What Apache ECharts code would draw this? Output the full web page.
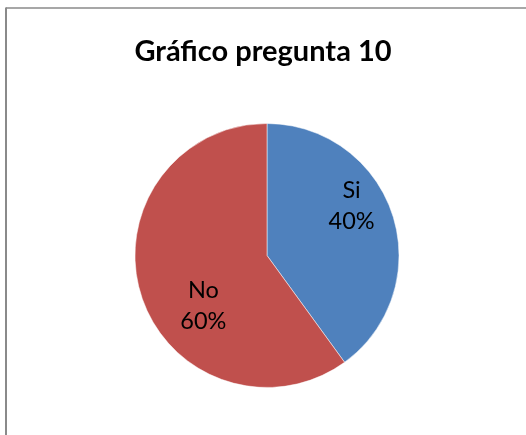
<!DOCTYPE html>
<html>
<head>
<meta charset="utf-8">
<script src="https://cdn.jsdelivr.net/npm/echarts@6/dist/echarts.min.js"></script>
<style>
html,body{margin:0;padding:0;background:#fff;}
#chart{width:526px;height:435px;}
</style>
</head>
<body>
<div id="chart"></div>
<script>
const titleText = 'Gráfico pregunta 10';
const categories = ['Si', 'No'];
const values = [40, 60];
const colors = ['#4F81BD', '#C0504D'];

const chart = echarts.init(document.getElementById('chart'), null, {renderer: 'canvas'});
const labelOffsets = [[19, -28], [2, 29]];
const option = {
  animation: false,
  backgroundColor: '#ffffff',
  title: {
    text: titleText,
    left: 'center',
    top: 32,
    textStyle: {fontFamily: 'Lato', fontWeight: 'bold', fontSize: 29, color: '#000'}
  },
  graphic: [
    {type: 'line', shape: {x1: 6, y1: 8, x2: 600, y2: 8}, style: {stroke: '#8a8a8a', lineWidth: 1.5}},
    {type: 'line', shape: {x1: 6, y1: 7.5, x2: 6, y2: 600}, style: {stroke: '#8a8a8a', lineWidth: 2}}
  ],
  series: [{
    type: 'pie',
    center: [267, 255.5],
    radius: [0, 132],
    startAngle: 90,
    clockwise: true,
    silent: true,
    itemStyle: {borderColor: '#ffffff', borderWidth: 0.5},
    label: {
      show: true,
      position: 'inside',
      formatter: p => p.name + '\n' + Math.round(p.percent) + '%',
      fontFamily: 'Lato',
      fontSize: 23.5,
      lineHeight: 31,
      color: '#000'
    },
    labelLine: {show: false},
    data: categories.map((c, i) => ({
      name: c,
      value: values[i],
      itemStyle: {color: colors[i]},
      label: {offset: labelOffsets[i]}
    }))
  }]
};
chart.setOption(option);
</script>
</body>
</html>
